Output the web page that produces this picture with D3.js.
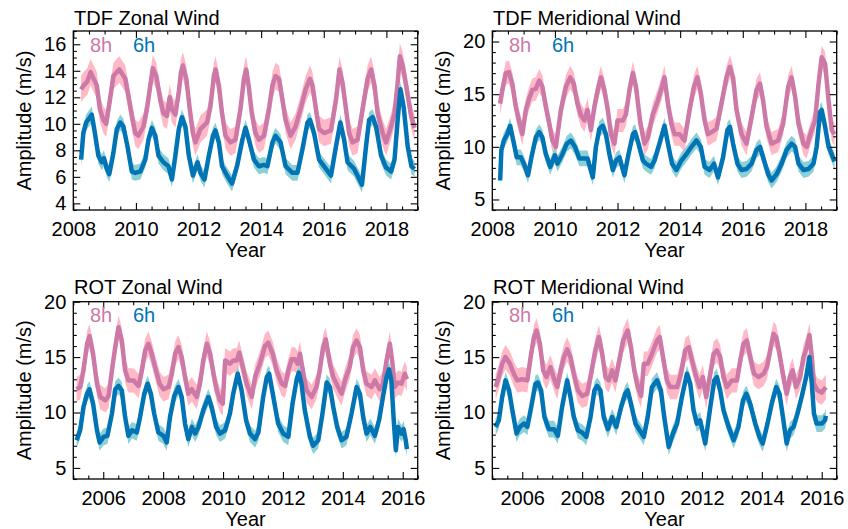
<!DOCTYPE html>
<html><head><meta charset="utf-8">
<script src="https://cdn.jsdelivr.net/npm/d3@7"></script>
<style>
body{margin:0;background:#fff}
svg{display:block}
text{font-family:"Liberation Sans",Arial,Helvetica,sans-serif;fill:#000}
</style>
</head><body>
<svg id="chart" width="848" height="529"></svg>
<script>
// ---------- data: [year, amplitude m/s] ----------
const tdfZonal8h = [[2008.25,12.6],[2008.33,12.9],[2008.45,13.2],[2008.55,13.9],[2008.75,12.9],[2008.85,11.1],[2008.96,10.3],[2009.05,10.0],[2009.17,11.8],[2009.28,13.6],[2009.39,13.9],[2009.47,14.1],[2009.66,13.4],[2009.76,12.1],[2009.87,10.6],[2009.98,9.3],[2010.08,9.1],[2010.24,9.8],[2010.35,11.1],[2010.46,12.9],[2010.54,14.2],[2010.65,13.6],[2010.78,11.8],[2010.88,10.8],[2010.99,10.6],[2011.08,12.0],[2011.15,11.1],[2011.26,10.7],[2011.37,12.4],[2011.44,13.9],[2011.5,14.4],[2011.61,13.4],[2011.72,11.1],[2011.82,9.3],[2011.9,8.6],[2012.06,9.6],[2012.27,10.1],[2012.38,11.3],[2012.49,13.6],[2012.54,14.1],[2012.65,12.9],[2012.75,10.8],[2012.86,9.1],[2013.02,8.6],[2013.18,8.8],[2013.34,11.1],[2013.45,13.4],[2013.52,14.1],[2013.6,12.9],[2013.7,10.8],[2013.82,9.3],[2013.93,8.8],[2014.09,9.1],[2014.25,11.1],[2014.36,12.9],[2014.46,13.6],[2014.57,13.4],[2014.68,11.8],[2014.78,10.3],[2014.94,9.1],[2015.1,9.8],[2015.26,11.1],[2015.42,12.6],[2015.56,13.4],[2015.64,12.9],[2015.75,11.1],[2015.85,9.6],[2016.01,9.3],[2016.23,9.5],[2016.39,11.8],[2016.5,14.1],[2016.6,13.1],[2016.71,11.1],[2016.81,9.3],[2016.92,8.6],[2017.08,8.8],[2017.24,11.1],[2017.4,13.4],[2017.51,14.1],[2017.62,12.9],[2017.72,10.8],[2017.88,9.3],[2017.99,8.6],[2018.15,9.8],[2018.26,10.8],[2018.36,13.1],[2018.43,15.1],[2018.52,14.4],[2018.63,12.9],[2018.79,10.6],[2018.9,9.7]];

const tdfZonal6h = [[2008.25,7.3],[2008.32,9.3],[2008.41,10.1],[2008.53,10.5],[2008.59,10.7],[2008.69,9.3],[2008.8,7.6],[2008.91,7.1],[2008.98,7.4],[2009.07,6.6],[2009.15,6.2],[2009.28,7.8],[2009.39,9.6],[2009.5,10.1],[2009.6,9.8],[2009.73,8.3],[2009.87,6.4],[2009.98,6.3],[2010.14,6.4],[2010.3,7.3],[2010.4,8.8],[2010.51,9.7],[2010.62,9.1],[2010.72,7.6],[2010.88,7.1],[2011.04,6.8],[2011.15,5.8],[2011.26,7.6],[2011.37,9.6],[2011.47,10.5],[2011.58,9.8],[2011.69,7.6],[2011.82,6.1],[2011.97,7.1],[2012.06,6.3],[2012.19,5.8],[2012.33,7.6],[2012.46,9.1],[2012.54,9.5],[2012.65,8.6],[2012.75,6.8],[2012.91,6.1],[2013.07,5.5],[2013.23,6.8],[2013.4,8.8],[2013.5,9.7],[2013.61,8.8],[2013.77,7.3],[2013.93,6.8],[2014.09,6.9],[2014.2,6.8],[2014.36,8.6],[2014.46,9.1],[2014.62,8.6],[2014.78,6.8],[2015.0,6.3],[2015.16,6.3],[2015.32,8.1],[2015.48,10.1],[2015.56,10.3],[2015.69,9.3],[2015.85,7.3],[2016.07,6.6],[2016.23,6.1],[2016.39,8.3],[2016.53,10.1],[2016.65,8.8],[2016.76,7.1],[2016.97,6.6],[2017.14,5.8],[2017.22,5.4],[2017.35,8.3],[2017.45,10.3],[2017.56,10.5],[2017.67,9.8],[2017.83,7.6],[2017.99,6.7],[2018.15,6.4],[2018.26,7.3],[2018.36,10.3],[2018.45,12.6],[2018.55,11.3],[2018.68,8.3],[2018.8,6.8],[2018.9,6.6]];

const tdfMerid8h = [[2008.25,14.1],[2008.32,15.4],[2008.43,17.0],[2008.53,17.1],[2008.64,16.0],[2008.75,13.8],[2008.85,12.5],[2008.96,11.2],[2009.07,13.5],[2009.18,14.6],[2009.28,15.4],[2009.39,15.5],[2009.5,16.3],[2009.6,15.7],[2009.71,13.8],[2009.82,12.2],[2009.92,10.6],[2010.03,10.0],[2010.19,13.5],[2010.35,15.7],[2010.49,16.6],[2010.6,16.0],[2010.72,14.1],[2010.83,13.0],[2010.94,12.5],[2011.04,13.5],[2011.15,11.6],[2011.26,13.8],[2011.39,15.7],[2011.47,16.6],[2011.58,15.4],[2011.69,13.5],[2011.79,11.2],[2011.9,10.3],[2012.0,12.5],[2012.17,12.5],[2012.27,13.1],[2012.38,15.4],[2012.49,17.0],[2012.59,15.7],[2012.73,12.2],[2012.86,10.3],[2012.97,10.9],[2013.13,13.1],[2013.29,14.4],[2013.42,15.7],[2013.5,16.6],[2013.61,14.1],[2013.72,12.2],[2013.82,11.2],[2013.98,11.2],[2014.14,10.6],[2014.3,13.5],[2014.44,15.7],[2014.55,16.6],[2014.66,15.1],[2014.78,12.5],[2014.89,11.2],[2015.0,11.4],[2015.16,11.7],[2015.32,14.1],[2015.48,16.6],[2015.59,17.6],[2015.69,16.6],[2015.8,13.5],[2015.96,11.2],[2016.12,10.3],[2016.28,12.8],[2016.44,15.4],[2016.55,16.0],[2016.65,14.4],[2016.76,11.9],[2016.92,10.3],[2017.13,10.6],[2017.29,12.2],[2017.45,15.7],[2017.56,16.6],[2017.67,14.8],[2017.78,12.2],[2017.94,10.3],[2018.04,10.0],[2018.2,11.6],[2018.31,12.5],[2018.42,16.0],[2018.52,18.5],[2018.63,17.9],[2018.74,14.4],[2018.84,11.6],[2018.93,11.2]];

const tdfMerid6h = [[2008.25,6.8],[2008.29,9.7],[2008.37,10.6],[2008.48,11.2],[2008.57,12.0],[2008.67,10.6],[2008.78,9.0],[2008.91,9.0],[2009.01,8.4],[2009.14,7.3],[2009.25,9.0],[2009.39,10.9],[2009.5,11.4],[2009.6,10.9],[2009.71,9.3],[2009.85,8.1],[2010.0,9.2],[2010.08,8.4],[2010.24,9.3],[2010.38,10.3],[2010.51,10.6],[2010.64,10.0],[2010.78,8.9],[2010.92,8.9],[2011.04,8.9],[2011.21,7.1],[2011.31,10.0],[2011.42,11.7],[2011.53,12.0],[2011.63,11.2],[2011.74,9.3],[2011.85,7.8],[2011.95,8.7],[2012.06,9.0],[2012.22,7.3],[2012.35,9.3],[2012.49,11.2],[2012.56,11.4],[2012.67,10.3],[2012.81,8.7],[2012.91,8.4],[2013.07,8.1],[2013.18,8.7],[2013.34,10.3],[2013.5,12.0],[2013.61,10.3],[2013.74,8.4],[2013.88,7.8],[2014.04,8.7],[2014.2,9.3],[2014.36,10.0],[2014.52,10.6],[2014.66,10.0],[2014.78,8.1],[2014.94,7.8],[2015.08,8.4],[2015.21,7.1],[2015.37,9.0],[2015.51,11.6],[2015.59,11.9],[2015.69,10.3],[2015.83,8.4],[2015.96,7.8],[2016.12,7.9],[2016.28,8.4],[2016.44,9.7],[2016.55,10.0],[2016.65,9.0],[2016.81,7.4],[2016.92,6.8],[2017.08,7.4],[2017.24,8.4],[2017.4,9.7],[2017.56,10.3],[2017.67,10.0],[2017.78,8.4],[2017.94,7.8],[2018.1,7.9],[2018.26,8.4],[2018.36,10.0],[2018.47,13.3],[2018.52,13.5],[2018.63,11.9],[2018.74,10.0],[2018.84,9.3],[2018.93,8.6]];

const rotZonal8h = [[2005.11,12.1],[2005.23,12.3],[2005.34,13.8],[2005.46,16.2],[2005.54,16.9],[2005.66,15.3],[2005.79,12.6],[2005.9,11.4],[2006.07,11.1],[2006.18,11.5],[2006.29,13.8],[2006.4,15.9],[2006.51,17.7],[2006.62,16.5],[2006.73,13.8],[2006.84,12.9],[2007.01,12.9],[2007.18,12.4],[2007.29,13.8],[2007.4,15.6],[2007.51,16.2],[2007.62,15.3],[2007.73,14.1],[2007.88,12.6],[2008.01,12.1],[2008.18,12.3],[2008.29,13.5],[2008.4,15.3],[2008.51,15.9],[2008.62,15.0],[2008.73,13.2],[2008.84,11.7],[2008.96,12.1],[2009.12,11.4],[2009.23,12.6],[2009.34,14.7],[2009.46,16.2],[2009.57,15.3],[2009.68,13.5],[2009.79,12.0],[2009.9,11.1],[2009.99,10.8],[2010.07,14.7],[2010.23,14.4],[2010.34,14.7],[2010.46,14.7],[2010.54,15.4],[2010.66,14.1],[2010.79,12.6],[2010.96,11.4],[2011.07,13.2],[2011.23,14.4],[2011.4,16.0],[2011.51,16.3],[2011.66,15.3],[2011.79,13.8],[2011.96,12.6],[2012.07,12.4],[2012.18,13.8],[2012.29,14.8],[2012.4,14.8],[2012.49,14.4],[2012.57,15.3],[2012.68,13.5],[2012.79,12.0],[2012.96,11.4],[2013.12,12.3],[2013.23,13.8],[2013.34,15.9],[2013.43,16.6],[2013.57,14.4],[2013.68,13.2],[2013.84,12.3],[2013.96,11.7],[2014.07,12.9],[2014.23,14.1],[2014.34,15.9],[2014.46,16.5],[2014.57,15.9],[2014.68,13.8],[2014.79,12.6],[2014.96,12.3],[2015.07,12.9],[2015.23,12.1],[2015.34,12.6],[2015.46,14.7],[2015.57,16.2],[2015.66,14.4],[2015.73,12.3],[2015.84,12.7],[2015.96,12.6],[2016.07,13.5],[2016.14,13.0]];

const rotZonal6h = [[2005.11,7.5],[2005.23,8.4],[2005.34,10.5],[2005.46,11.7],[2005.54,12.1],[2005.66,10.8],[2005.79,8.4],[2005.88,7.3],[2006.01,7.8],[2006.14,7.9],[2006.29,9.9],[2006.4,12.1],[2006.51,12.4],[2006.62,12.0],[2006.73,9.6],[2006.84,7.9],[2006.96,8.4],[2007.12,8.2],[2007.23,9.6],[2007.37,11.7],[2007.48,12.6],[2007.59,11.7],[2007.7,9.9],[2007.84,8.2],[2008.01,7.9],[2008.12,7.3],[2008.23,9.6],[2008.37,11.5],[2008.51,12.3],[2008.62,11.4],[2008.73,9.0],[2008.84,7.6],[2008.96,8.7],[2009.07,8.1],[2009.18,8.7],[2009.34,10.2],[2009.51,11.4],[2009.62,10.5],[2009.77,8.7],[2009.9,8.1],[2010.07,8.4],[2010.23,9.9],[2010.34,11.7],[2010.49,13.5],[2010.62,12.0],[2010.77,9.3],[2010.9,8.1],[2011.07,7.6],[2011.18,8.2],[2011.34,11.4],[2011.46,13.2],[2011.54,13.5],[2011.68,11.4],[2011.84,9.0],[2012.01,8.1],[2012.18,7.8],[2012.32,10.8],[2012.46,13.0],[2012.53,13.6],[2012.62,12.6],[2012.73,10.2],[2012.9,7.8],[2013.01,7.0],[2013.18,7.5],[2013.32,9.9],[2013.46,12.7],[2013.57,12.3],[2013.68,10.5],[2013.81,8.7],[2013.96,7.5],[2014.12,7.8],[2014.29,9.9],[2014.46,12.3],[2014.57,11.7],[2014.68,9.6],[2014.79,8.1],[2014.92,8.7],[2015.07,7.9],[2015.21,9.3],[2015.34,11.4],[2015.46,13.2],[2015.54,13.9],[2015.62,12.9],[2015.7,9.3],[2015.77,6.6],[2015.84,8.7],[2015.96,8.1],[2016.03,8.5],[2016.1,7.5],[2016.14,6.7]];

const rotMerid8h = [[2005.11,12.3],[2005.22,13.2],[2005.33,14.4],[2005.44,15.0],[2005.59,14.4],[2005.72,13.5],[2005.83,12.9],[2006.0,13.0],[2006.17,12.9],[2006.28,15.0],[2006.39,16.8],[2006.48,17.4],[2006.59,16.2],[2006.7,13.8],[2006.81,13.2],[2006.94,14.1],[2007.08,12.9],[2007.17,12.3],[2007.28,13.8],[2007.39,15.0],[2007.5,15.7],[2007.61,15.0],[2007.72,13.5],[2007.86,12.0],[2008.0,11.5],[2008.17,11.7],[2008.3,13.5],[2008.44,15.6],[2008.56,16.8],[2008.67,15.3],[2008.78,13.2],[2008.89,12.9],[2009.0,13.8],[2009.11,12.9],[2009.22,14.4],[2009.37,16.5],[2009.52,17.4],[2009.63,15.9],[2009.74,13.8],[2009.86,12.3],[2009.97,11.5],[2010.06,14.4],[2010.19,14.4],[2010.33,15.3],[2010.5,16.5],[2010.59,16.8],[2010.7,15.0],[2010.83,12.9],[2010.94,12.3],[2011.17,12.3],[2011.3,13.5],[2011.44,15.6],[2011.56,15.9],[2011.67,14.7],[2011.78,13.5],[2011.92,12.3],[2012.03,13.2],[2012.14,11.4],[2012.28,13.5],[2012.39,15.3],[2012.5,15.6],[2012.61,15.0],[2012.72,13.2],[2012.83,12.3],[2013.0,12.9],[2013.17,12.9],[2013.28,14.7],[2013.39,16.2],[2013.5,16.5],[2013.61,15.0],[2013.74,13.5],[2013.89,13.2],[2014.06,13.5],[2014.17,14.1],[2014.3,15.9],[2014.39,17.1],[2014.48,16.8],[2014.59,15.3],[2014.72,13.2],[2014.83,11.7],[2014.94,13.2],[2015.03,13.8],[2015.14,12.3],[2015.28,13.2],[2015.39,15.0],[2015.5,15.9],[2015.59,17.0],[2015.67,15.0],[2015.74,12.6],[2015.86,12.0],[2016.0,11.8],[2016.14,12.3]];

const rotMerid6h = [[2005.11,8.7],[2005.22,9.3],[2005.33,11.4],[2005.44,12.9],[2005.56,12.0],[2005.67,10.2],[2005.81,8.1],[2005.92,8.7],[2006.06,9.0],[2006.17,8.7],[2006.3,10.5],[2006.44,12.6],[2006.52,12.7],[2006.63,12.0],[2006.74,9.6],[2006.89,8.5],[2007.06,8.5],[2007.19,7.9],[2007.33,10.5],[2007.5,12.9],[2007.61,11.4],[2007.72,9.6],[2007.86,8.4],[2008.0,8.2],[2008.14,7.8],[2008.28,9.6],[2008.41,12.0],[2008.5,12.4],[2008.61,12.0],[2008.72,9.6],[2008.86,8.5],[2009.0,9.6],[2009.14,8.7],[2009.3,10.5],[2009.44,11.7],[2009.52,12.0],[2009.63,10.8],[2009.78,9.0],[2009.92,8.4],[2010.06,7.8],[2010.19,9.6],[2010.33,12.3],[2010.5,12.9],[2010.63,12.0],[2010.74,9.6],[2010.89,6.9],[2011.03,8.1],[2011.17,9.0],[2011.33,11.4],[2011.5,13.5],[2011.61,12.6],[2011.72,10.2],[2011.83,9.0],[2011.94,9.3],[2012.11,7.2],[2012.28,10.5],[2012.41,12.9],[2012.5,13.2],[2012.61,12.0],[2012.72,10.2],[2012.89,8.7],[2013.06,7.5],[2013.22,8.7],[2013.37,11.1],[2013.48,11.7],[2013.61,10.8],[2013.78,9.0],[2013.92,7.8],[2014.03,7.2],[2014.19,9.0],[2014.33,10.8],[2014.48,12.3],[2014.59,11.7],[2014.72,9.3],[2014.83,7.2],[2014.94,8.4],[2015.06,8.7],[2015.19,9.9],[2015.33,11.4],[2015.48,13.2],[2015.59,15.0],[2015.67,12.6],[2015.74,9.9],[2015.83,9.0],[2016.0,9.0],[2016.11,9.3],[2016.14,9.7]];

// tick labels
const tdfYearTicks = [2008, 2010, 2012, 2014, 2016, 2018];
const rotYearTicks = [2006, 2008, 2010, 2012, 2014, 2016];
const tdfZonalAmpTicks = [4, 6, 8, 10, 12, 14, 16];
const ampTicks5 = [5, 10, 15, 20];
const legendLabels = ["8h", "6h"];

// ---------- styling ----------
const col8 = "#cc79a7", band8 = "#ffb8c6";
const col6 = "#0074b4", band6 = "#8ccfd6";
const FS = 20;

const panels = [
  {title:"TDF Zonal Wind", x0:73.3, y0:31, w:344.4, h:179, titleY:25,
   xd:[2008,2019], yd:[3.5,17], xt:tdfYearTicks, yt:tdfZonalAmpTicks, yMinor:0.5,
   s8:tdfZonal8h, s6:tdfZonal6h, e8:1.0, e6:0.6},
  {title:"TDF Meridional Wind", x0:492.3, y0:31, w:344.4, h:179, titleY:25,
   xd:[2008,2019], yd:[4,21], xt:tdfYearTicks, yt:ampTicks5, yMinor:1,
   s8:tdfMerid8h, s6:tdfMerid6h, e8:1.1, e6:0.75},
  {title:"ROT Zonal Wind", x0:73.3, y0:301.7, w:344.4, h:177.3, titleY:294,
   xd:[2005,2016.5], yd:[4,20], xt:rotYearTicks, yt:ampTicks5, yMinor:1,
   s8:rotZonal8h, s6:rotZonal6h, e8:1.1, e6:0.75},
  {title:"ROT Meridional Wind", x0:492.3, y0:301.7, w:344.4, h:177.3, titleY:294,
   xd:[2005,2016.5], yd:[4,20], xt:rotYearTicks, yt:ampTicks5, yMinor:1,
   s8:rotMerid8h, s6:rotMerid6h, e8:1.1, e6:0.75}
];

const svg = d3.select("#chart");
const defs = svg.append("defs");

panels.forEach((p, i) => {
  const x = d3.scaleLinear().domain(p.xd).range([0, p.w]);
  const y = d3.scaleLinear().domain(p.yd).range([p.h, 0]);
  const g = svg.append("g").attr("transform", `translate(${p.x0},${p.y0})`);

  defs.append("clipPath").attr("id", "clip" + i)
    .append("rect").attr("width", p.w).attr("height", p.h);

  const plot = g.append("g").attr("clip-path", `url(#clip${i})`);
  const area = e => d3.area().x(d => x(d[0])).y0(d => y(d[1] - e)).y1(d => y(d[1] + e));
  const line = d3.line().x(d => x(d[0])).y(d => y(d[1]));

  plot.append("path").datum(p.s8).attr("d", area(p.e8)).attr("fill", band8);
  plot.append("path").datum(p.s6).attr("d", area(p.e6)).attr("fill", band6);
  plot.append("path").datum(p.s8).attr("d", line).attr("fill", "none")
    .attr("stroke", col8).attr("stroke-width", 4.5).attr("stroke-linejoin", "round");
  plot.append("path").datum(p.s6).attr("d", line).attr("fill", "none")
    .attr("stroke", col6).attr("stroke-width", 4.5).attr("stroke-linejoin", "round");

  // minor ticks
  const xMinor = d3.range(Math.ceil(p.xd[0] * 2) / 2, p.xd[1] + 1e-9, 0.5).filter(v => !p.xt.includes(v));
  const yMinor = d3.range(Math.ceil(p.yd[0] / p.yMinor) * p.yMinor, p.yd[1] + 1e-9, p.yMinor).filter(v => !p.yt.includes(v));
  const style = s => s.call(a => a.select(".domain").remove())
                      .call(a => a.selectAll("line").attr("stroke", "#000").attr("stroke-width", 1.1));

  // bottom
  g.append("g").attr("transform", `translate(0,${p.h})`)
    .call(d3.axisBottom(x).tickValues(p.xt).tickSize(-7).tickPadding(11.8).tickFormat(d3.format("d")))
    .call(style).call(a => a.selectAll("text").attr("font-size", FS).attr("font-family", null));
  g.append("g").attr("transform", `translate(0,${p.h})`)
    .call(d3.axisBottom(x).tickValues(xMinor).tickSize(-3.5).tickFormat("")).call(style);
  // top
  g.append("g").call(d3.axisTop(x).tickValues(p.xt).tickSize(-7).tickFormat("")).call(style);
  g.append("g").call(d3.axisTop(x).tickValues(xMinor).tickSize(-3.5).tickFormat("")).call(style);
  // left
  g.append("g")
    .call(d3.axisLeft(y).tickValues(p.yt).tickSize(-7).tickPadding(7).tickFormat(d3.format("d")))
    .call(style).call(a => a.selectAll("text").attr("font-size", FS).attr("font-family", null));
  g.append("g").call(d3.axisLeft(y).tickValues(yMinor).tickSize(-3.5).tickFormat("")).call(style);
  // right
  g.append("g").attr("transform", `translate(${p.w},0)`)
    .call(d3.axisRight(y).tickValues(p.yt).tickSize(-7).tickFormat("")).call(style);
  g.append("g").attr("transform", `translate(${p.w},0)`)
    .call(d3.axisRight(y).tickValues(yMinor).tickSize(-3.5).tickFormat("")).call(style);

  // frame
  g.append("rect").attr("width", p.w).attr("height", p.h)
    .attr("fill", "none").attr("stroke", "#000").attr("stroke-width", 1.3);

  // titles and labels
  svg.append("text").attr("x", p.x0 + 0.7).attr("y", p.titleY)
    .attr("font-size", FS).text(p.title);
  g.append("text").attr("x", p.w / 2).attr("y", p.h + 47)
    .attr("text-anchor", "middle").attr("font-size", FS).text("Year");
  g.append("text").attr("transform", `translate(-42.5,${p.h / 2}) rotate(-90)`)
    .attr("text-anchor", "middle").attr("font-size", FS).text("Amplitude (m/s)");

  // legend
  g.append("text").attr("x", 16.7).attr("y", 20.7).attr("font-size", FS)
    .style("fill", col8).text(legendLabels[0]);
  g.append("text").attr("x", 59.7).attr("y", 20.7).attr("font-size", FS)
    .style("fill", col6).text(legendLabels[1]);
});
</script>
</body></html>
